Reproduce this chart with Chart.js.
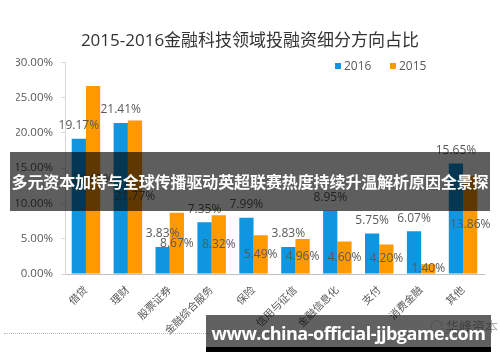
<!DOCTYPE html>
<html>
<head>
<meta charset="utf-8">
<script src="https://cdn.jsdelivr.net/npm/chart.js@4/dist/chart.umd.min.js"></script>
<style>
  html, body { margin: 0; padding: 0; background: #fff; }
  #wrap { position: relative; width: 500px; height: 362px; overflow: hidden; font-family: "Open Sans", "Noto Sans CJK SC", sans-serif; }
  canvas { position: absolute; left: 0; top: 0; }
  .leg { position: absolute; top: 58px; font-size: 12px; color: #595959; line-height: 16px; }
  .leg i { display: inline-block; width: 6px; height: 6px; margin-right: 3px; vertical-align: 1px; }
  #dots { position: absolute; left: 4px; top: 333px; width: 480px; border-top: 1px dotted #bbb; }
  #logo { position: absolute; left: 430px; top: 316px; font-size: 13px; color: #aaa; font-family: "Noto Sans CJK SC", sans-serif; }
  #banner { position: absolute; left: 10px; top: 152px; width: 480px; height: 59px; background: rgba(0,0,0,0.63);
            color: #fff; font-family: "Noto Sans CJK SC", sans-serif; font-weight: bold; font-size: 16px; line-height: 59px;
            text-align: center; white-space: nowrap; letter-spacing: -0.1px; }
  #wm { position: absolute; left: 206px; top: 315px; width: 285px; height: 32px; background: rgba(0,0,0,0.62);
        color: #fff; font-family: "Open Sans", sans-serif; font-weight: bold; font-size: 18px; line-height: 36px;
        text-align: center; white-space: nowrap; letter-spacing: -0.5px; }
  #wmb { position: absolute; left: 206px; top: 347px; width: 285px; height: 5px; background: #000; }
</style>
</head>
<body>
<div id="wrap">
  <canvas id="c" width="500" height="362"></canvas>
  <div class="leg" style="left:335px"><i style="background:#0E96E0"></i>2016</div>
  <div class="leg" style="left:390px"><i style="background:#FF9900"></i>2015</div>
  <div id="dots"></div>
  <div id="logo">◌ 华峰资本</div>
  <div id="banner">多元资本加持与全球传播驱动英超联赛热度持续升温解析原因全景探</div>
  <div id="wm">www.china-official-jjbgame.com</div>
  <div id="wmb"></div>
</div>
<script>
const categories = ['借贷', '理财', '股票证券', '金融综合服务', '保险', '信用与征信', '金融信息化', '支付', '消费金融', '其他'];
const values2016 = [19.17, 21.41, 3.83, 7.35, 7.99, 3.83, 8.95, 5.75, 6.07, 15.65];
const values2015 = [26.67, 21.77, 8.67, 8.32, 5.49, 4.96, 4.60, 4.20, 1.40, 13.86];
const yTicks = [0, 5, 10, 15, 20, 25, 30];
const titleText = '2015-2016金融科技领域投融资细分方向占比';

const FONT = '"Open Sans", "Noto Sans CJK SC", sans-serif';

const labelPlugin = {
  id: 'valueLabels',
  afterDatasetsDraw(chart) {
    const ctx = chart.ctx;
    ctx.save();
    ctx.font = '12px ' + FONT;
    ctx.fillStyle = '#595959';
    ctx.textAlign = 'center';
    ctx.textBaseline = 'middle';
    chart.data.datasets.forEach((ds, di) => {
      const meta = chart.getDatasetMeta(di);
      meta.data.forEach((el, i) => {
        const txt = ds.data[i].toFixed(2) + '%';
        const y = di === 0 ? el.y - 13 : (el.y + el.base) / 2;
        ctx.fillText(txt, el.x, y);
      });
    });
    ctx.restore();
  }
};

new Chart(document.getElementById('c'), {
  type: 'bar',
  data: {
    labels: categories,
    datasets: [
      { label: '2016', data: values2016, backgroundColor: '#0E96E0', categoryPercentage: 0.68, barPercentage: 1.0 },
      { label: '2015', data: values2015, backgroundColor: '#FF9900', categoryPercentage: 0.68, barPercentage: 1.0 }
    ]
  },
  options: {
    responsive: false,
    animation: false,
    layout: { padding: { left: 16, right: 16, top: 0, bottom: 0 } },
    plugins: {
      legend: { display: false },
      tooltip: { enabled: false },
      title: {
        display: true, text: titleText, color: '#333333',
        font: { size: 17, weight: 'normal', family: FONT },
        padding: { top: 31, bottom: 11 }
      }
    },
    scales: {
      x: {
        grid: { display: false },
        border: { color: '#bfbfbf' },
        ticks: { color: '#595959', font: { size: 10.5, family: FONT }, maxRotation: 45, minRotation: 45, autoSkip: false, padding: 2 },
        afterFit(scale) { scale.height = 88; }
      },
      y: {
        min: 0, max: 30,
        afterBuildTicks(scale) { scale.ticks = yTicks.map(v => ({ value: v })); },
        grid: { display: true, drawOnChartArea: false, drawTicks: true, tickLength: 4, color: '#d9d9d9' },
        border: { color: '#d9d9d9' },
        ticks: { color: '#595959', font: { size: 11.5, family: FONT }, padding: 8,
                 callback: v => Number(v).toFixed(2) + '%' },
        afterFit(scale) { scale.width = 49; }
      }
    }
  },
  plugins: [labelPlugin]
});
</script>
</body>
</html>
